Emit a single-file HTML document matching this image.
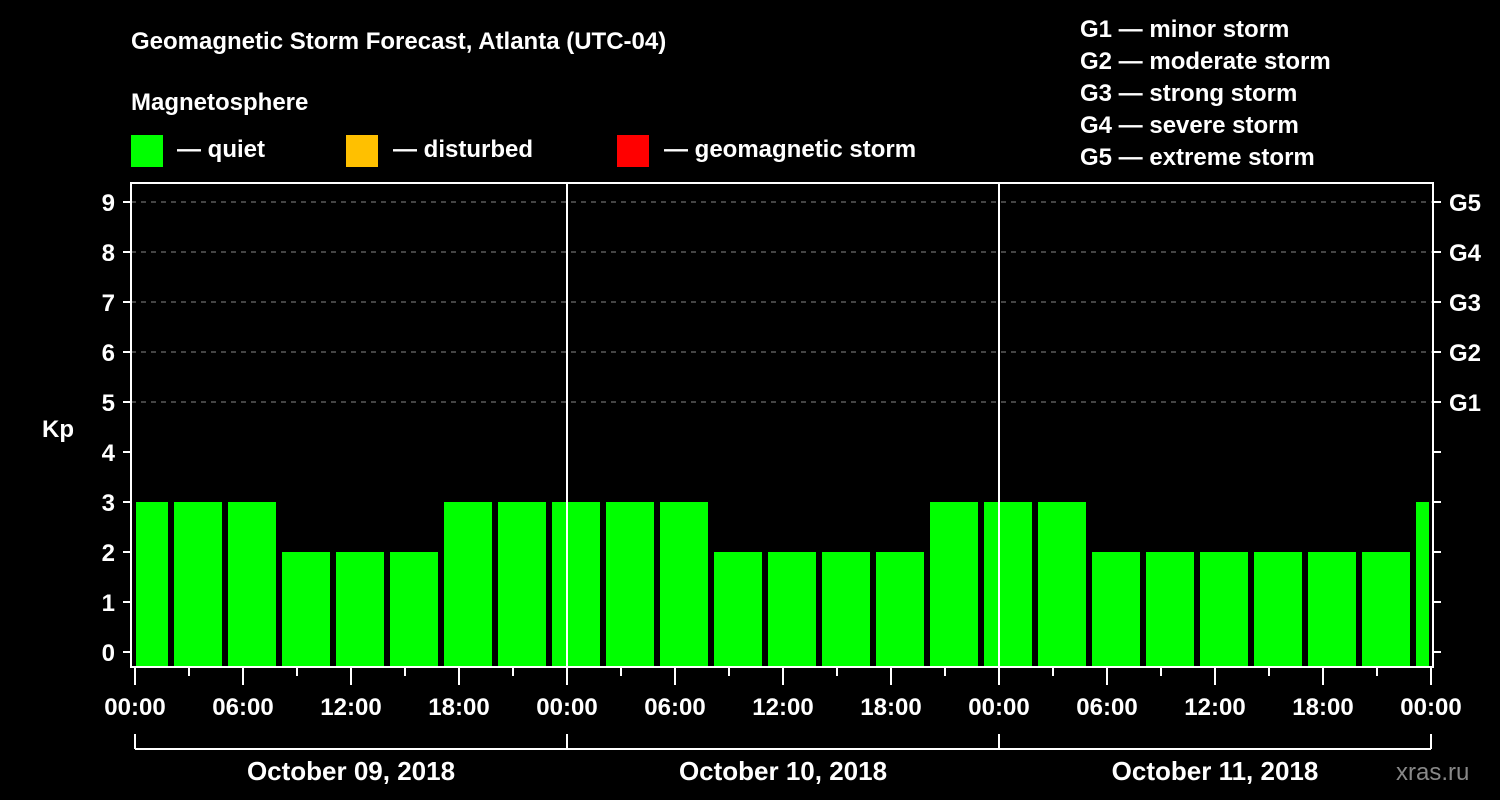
<!DOCTYPE html>
<html><head><meta charset="utf-8"><style>
body{margin:0;background:#000;}
svg{display:block;font-family:"Liberation Sans",Arial,sans-serif;font-weight:bold;}
</style></head><body>
<svg id="chart" width="1500" height="800" viewBox="0 0 1500 800">
<rect width="1500" height="800" fill="#000"/>
<text x="131" y="49" fill="#fff" font-size="24">Geomagnetic Storm Forecast, Atlanta (UTC-04)</text>
<text x="131" y="110" fill="#fff" font-size="24">Magnetosphere</text>
<g><rect x="131" y="135" width="32" height="32" fill="#00ff00"/><text x="177" y="157" fill="#fff" font-size="24">— quiet</text></g>
<g><rect x="346" y="135" width="32" height="32" fill="#ffc000"/><text x="393" y="157" fill="#fff" font-size="24">— disturbed</text></g>
<g><rect x="617" y="135" width="32" height="32" fill="#ff0000"/><text x="664" y="157" fill="#fff" font-size="24">— geomagnetic storm</text></g>
<g fill="#fff" font-size="24">
<text x="1080" y="37">G1 — minor storm</text><text x="1080" y="69">G2 — moderate storm</text><text x="1080" y="101">G3 — strong storm</text><text x="1080" y="133">G4 — severe storm</text><text x="1080" y="165">G5 — extreme storm</text>
</g>
<text x="42" y="437" fill="#fff" font-size="24">Kp</text>
<g id="grid"></g><g id="bars"></g><g id="axes"></g>
<text x="1396" y="780" fill="#888" font-size="24" font-weight="normal">xras.ru</text>
</svg>
<script>
const kpValues=[3,3,3,2,2,2,3,3,3,3,3,2,2,2,2,3,3,3,2,2,2,2,2,2,3];
const yTicks=[0,1,2,3,4,5,6,7,8,9];
const gLabels=["G1","G2","G3","G4","G5"];
const timeLabels=["00:00","06:00","12:00","18:00"];
const dayLabels=["October 09, 2018","October 10, 2018","October 11, 2018"];
const NS="http://www.w3.org/2000/svg";
const L=131,R=1433,T=183,B=667,X0=135,PXH=18;
const y=k=>652-50*k;
const x=h=>X0+h*PXH;
function mk(p,tag,a,txt){const e=document.createElementNS(NS,tag);for(const k in a)e.setAttribute(k,a[k]);if(txt!=null)e.textContent=txt;p.appendChild(e);return e;}
const grid=document.getElementById('grid'),bars=document.getElementById('bars'),axes=document.getElementById('axes');
for(let k=5;k<=9;k++){const g=mk(grid,'line',{x1:L,x2:R,y1:y(k),y2:y(k),stroke:'#888','stroke-dasharray':'5,5','stroke-width':1});

}
kpValues.forEach((v,i)=>{const c=x(0.5+3*i);let x1=Math.max(c-24,L+5),x2=Math.min(c+24,R-4);
const col=v>=5?'#ff0000':(v>=4?'#ffc000':'#00ff00');
const r=mk(bars,'rect',{x:x1,y:y(v),width:x2-x1,height:B-y(v),fill:col});

});
// frame
const f=mk(axes,'rect',{x:L,y:T,width:R-L,height:B-T,fill:'none',stroke:'#fff','stroke-width':2});


// day separators
[1,2].forEach(d=>{const l=mk(axes,'line',{x1:x(24*d),x2:x(24*d),y1:T,y2:B,stroke:'#fff','stroke-width':2});

});
yTicks.forEach(k=>{mk(axes,'line',{x1:L-8,x2:L,y1:y(k),y2:y(k),stroke:'#fff','stroke-width':2});
mk(axes,'line',{x1:R,x2:R+8,y1:y(k),y2:y(k),stroke:'#fff','stroke-width':2});
const t=mk(axes,'text',{x:115,y:y(k)+9,fill:'#fff','font-size':24,'text-anchor':'end'},k);

});
gLabels.forEach((g,i)=>{const t=mk(axes,'text',{x:1449,y:y(5+i)+9,fill:'#fff','font-size':24},g);

});
for(let h=0;h<=72;h+=3){const major=h%6===0;mk(axes,'line',{x1:x(h),x2:x(h),y1:B,y2:B+(major?18:9),stroke:'#fff','stroke-width':2});
if(major){const t=mk(axes,'text',{x:x(h),y:715,fill:'#fff','font-size':24,'text-anchor':'middle'},h===72?"00:00":timeLabels[(h%24)/6]);

}}
mk(axes,'line',{x1:x(0),x2:R-2,y1:749,y2:749,stroke:'#fff','stroke-width':2});
for(let d=0;d<=3;d++)mk(axes,'line',{x1:d==3?R-2:x(24*d),x2:d==3?R-2:x(24*d),y1:734,y2:749,stroke:'#fff','stroke-width':2});
dayLabels.forEach((s,d)=>{const t=mk(axes,'text',{x:x(24*d+12),y:780,fill:'#fff','font-size':26,'text-anchor':'middle'},s);

});
</script>
</body></html>
